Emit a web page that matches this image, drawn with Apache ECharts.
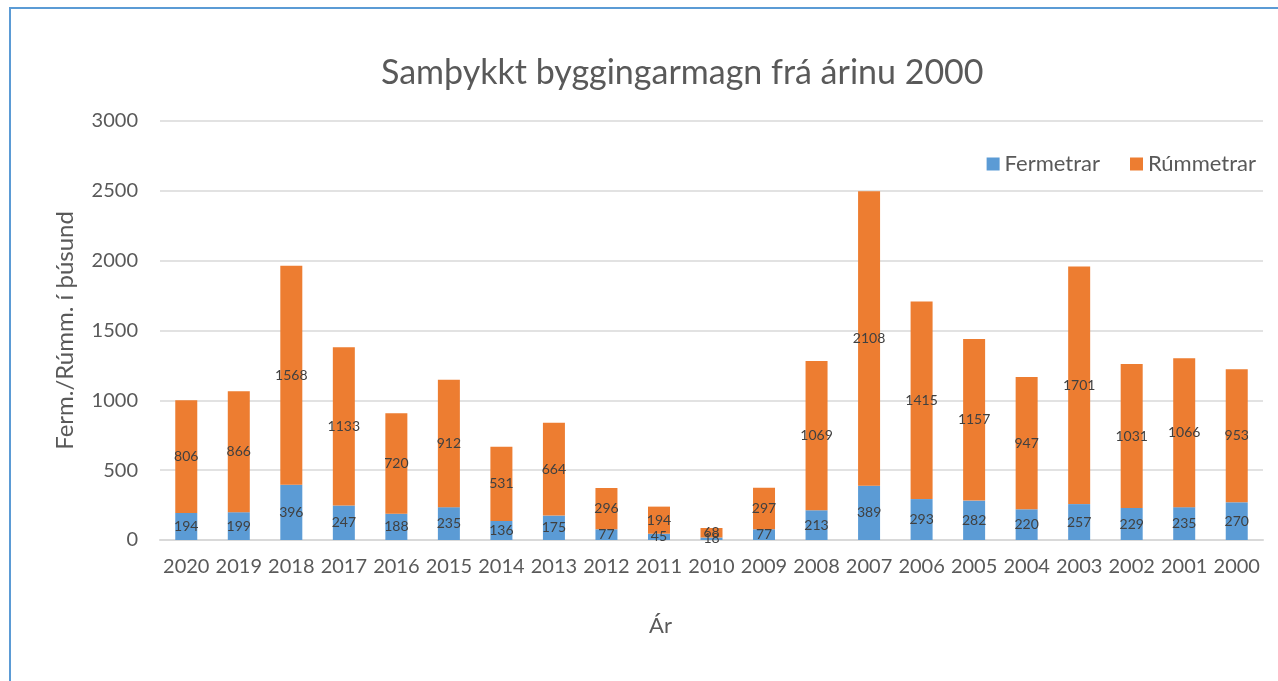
<!DOCTYPE html>
<html><head><meta charset="utf-8">
<script src="https://cdn.jsdelivr.net/npm/echarts@6/dist/echarts.min.js"></script>
<style>
html,body{margin:0;padding:0;background:#fff;}
#frame{position:absolute;left:9px;top:7px;width:1300px;height:700px;border-left:2px solid #5b9bd5;border-top:2px solid #5b9bd5;box-sizing:border-box;}
#c{position:absolute;left:0;top:0;width:1278px;height:681px;}
</style></head>
<body>
<div id="frame"></div>
<div id="c"></div>
<script>
const categories = ['2020','2019','2018','2017','2016','2015','2014','2013','2012','2011','2010','2009','2008','2007','2006','2005','2004','2003','2002','2001','2000'];
const fermetrar = [194,199,396,247,188,235,136,175,77,45,18,77,213,389,293,282,220,257,229,235,270];
const rummetrar = [806,866,1568,1133,720,912,531,664,296,194,68,297,1069,2108,1415,1157,947,1701,1031,1066,953];

const chart = echarts.init(document.getElementById('c'), null, {renderer:'canvas'});
const font = 'Lato, Carlito, "Noto Sans", sans-serif';
const lbl = {show:true, position:'inside', color:'#404040', fontSize:14, fontFamily:font};
chart.setOption({
  animation:false,
  backgroundColor:'transparent',
  textStyle:{fontFamily:font},
  title:{text:'Samþykkt byggingarmagn frá árinu 2000', left:376, top:51,
    textStyle:{fontSize:34, fontWeight:'normal', color:'#595959', fontFamily:font}},
  legend:{right:17, top:148, itemWidth:13, itemHeight:13, itemGap:30, icon:'rect',
    textStyle:{fontSize:22, color:'#595959', fontFamily:font},
    data:['Fermetrar','Rúmmetrar']},
  grid:{left:160, right:15, top:121, bottom:141},
  xAxis:{type:'category', data:categories, name:'Ár', nameLocation:'middle', nameGap:75,
    nameTextStyle:{fontSize:22, color:'#595959', fontFamily:font, padding:[0,102,0,0]},
    axisLine:{lineStyle:{color:'#d9d9d9', width:2}}, axisTick:{show:false},
    axisLabel:{interval:0, fontSize:20, color:'#595959', margin:17, fontFamily:font}},
  yAxis:{type:'value', min:0, max:3000, interval:500, name:'Ferm./Rúmm. í þúsund',
    nameLocation:'middle', nameGap:83, nameRotate:90,
    nameTextStyle:{fontSize:24, color:'#595959', fontFamily:font},
    axisLine:{show:false}, axisTick:{show:false},
    axisLabel:{fontSize:20, color:'#595959', margin:22, fontFamily:font, formatter:v=>String(v)},
    splitLine:{lineStyle:{color:'#d9d9d9', width:1.5}}},
  series:[
    {name:'Fermetrar', type:'bar', stack:'a', data:fermetrar, barWidth:22,
     itemStyle:{color:'#5b9bd5'}, label:lbl},
    {name:'Rúmmetrar', type:'bar', stack:'a', data:rummetrar, barWidth:22,
     itemStyle:{color:'#ed7d31'}, label:lbl}
  ]
});
</script>
</body></html>
